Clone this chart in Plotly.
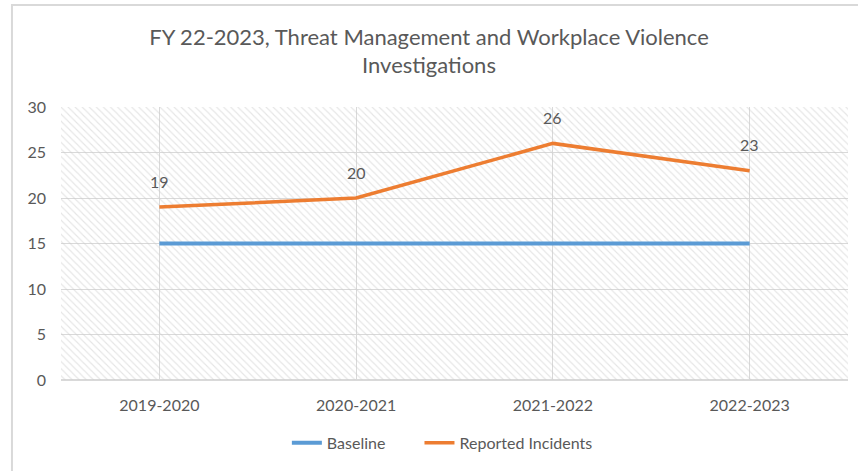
import plotly.graph_objects as go

categories = ["2019-2020", "2020-2021", "2021-2022", "2022-2023"]
baseline = [15, 15, 15, 15]
reported = [19, 20, 26, 23]
y_ticks = [0, 5, 10, 15, 20, 25, 30]

title_text = "FY 22-2023, Threat Management and Workplace Violence<br>Investigations"
FONT = "Lato, 'Open Sans', sans-serif"
GRAY = "#595959"
GRID = "#d9d9d9"

x_idx = list(range(len(categories)))

fig = go.Figure()

# hatched plot-area background on a hidden [0,1] base axis
fig.add_trace(go.Scatter(
    x=[0, 1, 1, 0, 0], y=[0, 0, 1, 1, 0], xaxis="x", yaxis="y",
    mode="lines", line=dict(width=0), fill="toself",
    fillcolor="rgba(0,0,0,0)",
    fillpattern=dict(shape="\\", fgcolor="#cccccc", bgcolor="rgba(255,255,255,0)",
                     size=5, solidity=0.22),
    hoverinfo="skip", showlegend=False))

fig.add_trace(go.Scatter(
    x=x_idx, y=baseline, xaxis="x2", yaxis="y2", name="Baseline",
    mode="lines", line=dict(color="#5b9bd5", width=4), legend="legend"))
fig.add_trace(go.Scatter(
    x=x_idx, y=reported, xaxis="x2", yaxis="y2", name="Reported Incidents",
    mode="lines", line=dict(color="#ed7d31", width=3.5), legend="legend2"))

for xi, v in zip(x_idx, reported):
    fig.add_annotation(x=xi, y=v, xref="x2", yref="y2", text=str(v),
                       showarrow=False, yshift=26,
                       font=dict(family=FONT, size=16, color=GRAY))

legend_style = dict(orientation="h", y=-0.168, yanchor="top", xanchor="left",
                    font=dict(family=FONT, size=16, color=GRAY),
                    bgcolor="rgba(0,0,0,0)")

fig.update_layout(
    width=858, height=471,
    margin=dict(l=61, r=10, t=107, b=91, autoexpand=False),
    paper_bgcolor="white", plot_bgcolor="white",
    title=dict(text=title_text, x=0.5, xanchor="center", y=0.905, yanchor="top",
               font=dict(family=FONT, size=22, color=GRAY)),
    font=dict(family=FONT, color=GRAY),
    xaxis=dict(range=[0, 1], visible=False, showgrid=False, zeroline=False, fixedrange=True),
    yaxis=dict(range=[0, 1], visible=False, showgrid=False, zeroline=False, fixedrange=True),
    xaxis2=dict(overlaying="x", range=[-0.5, 3.5], tickmode="array",
                tickvals=x_idx, ticktext=categories, showgrid=True, gridcolor=GRID,
                gridwidth=1, zeroline=False, showline=False, automargin=False,
                ticklabelstandoff=14, tickfont=dict(family=FONT, size=16, color=GRAY)),
    yaxis2=dict(overlaying="y", range=[0, 30], tickmode="array", tickvals=y_ticks,
                showgrid=True, gridcolor=GRID, gridwidth=1, zeroline=True,
                zerolinecolor=GRID, zerolinewidth=2, showline=False, automargin=False,
                ticklabelstandoff=14, tickfont=dict(family=FONT, size=16, color=GRAY)),
    legend=dict(legend_style, x=0.287),
    legend2=dict(legend_style, x=0.4555),
    shapes=[dict(type="rect", xref="paper", yref="paper",
                 x0=-0.0623, x1=1.05, y0=-0.5, y1=1.3736,
                 line=dict(color=GRID, width=2), fillcolor="rgba(0,0,0,0)", layer="below")],
)

fig.write_html("out.html", config={"displayModeBar": False},
               post_script="document.body.style.margin='0';document.body.style.overflow='hidden';")
